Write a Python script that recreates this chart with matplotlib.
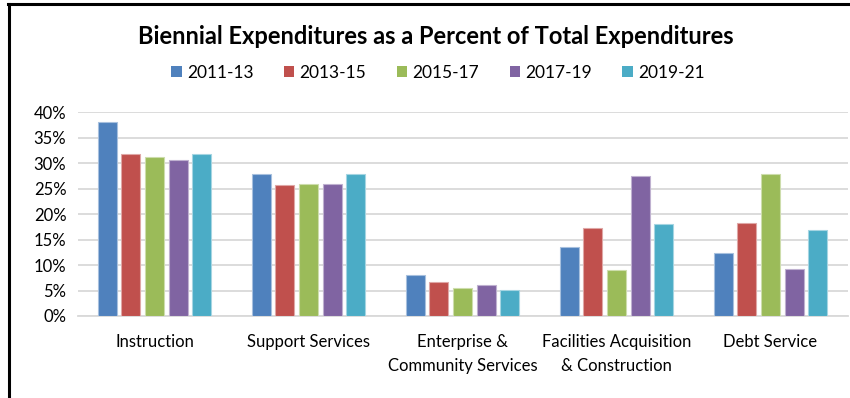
import matplotlib
matplotlib.use("Agg")
import matplotlib.pyplot as plt
from matplotlib.patches import Patch
from matplotlib.lines import Line2D
import numpy as np

categories = ["Instruction", "Support Services", "Enterprise &\nCommunity Services",
              "Facilities Acquisition\n& Construction", "Debt Service"]
periods = ["2011-13", "2013-15", "2015-17", "2017-19", "2019-21"]

pct_2011_13 = [38.0, 27.9, 8.0, 13.5, 12.3]
pct_2013_15 = [31.9, 25.7, 6.6, 17.2, 18.2]
pct_2015_17 = [31.2, 25.9, 5.5, 9.1, 27.8]
pct_2017_19 = [30.7, 26.0, 6.0, 27.5, 9.3]
pct_2019_21 = [31.9, 27.8, 5.1, 18.0, 16.8]

series = [pct_2011_13, pct_2013_15, pct_2015_17, pct_2017_19, pct_2019_21]
colors = ["#4F81BD", "#C0504D", "#9BBB59", "#8064A2", "#4BACC6"]
edges = ["#A7C0DE", "#DFA7A6", "#CDDDAC", "#BFB1D0", "#A5D5E2"]

plt.rcParams["font.family"] = ["Lato", "DejaVu Sans"]

W, H = 850, 398
fig = plt.figure(figsize=(W / 100, H / 100), dpi=100)
ax = fig.add_axes([77.5 / W, 82 / H, 770 / W, (316 - 112.3) / H])

x = np.arange(len(categories))
slot = 0.1532
bar_w = 0.123
for i, (vals, c, ec) in enumerate(zip(series, colors, edges)):
    ax.bar(x + (i - 2) * slot, vals, width=bar_w, color=c, edgecolor=ec,
           linewidth=0.8, zorder=3)

ax.set_xlim(-0.5, len(categories) - 0.5)
ax.set_ylim(0, 40)
ax.set_yticks(np.arange(0, 41, 5))
ax.set_yticklabels([f"{v}%" for v in range(0, 41, 5)])
ax.set_xticks(x)
ax.set_xticklabels(categories, linespacing=1.6)
ax.yaxis.grid(True, color="#D9D9D9", linewidth=1.3, zorder=0)
ax.tick_params(axis="both", length=0, labelsize=12, colors="#000000")
ax.tick_params(axis="y", pad=8)
ax.tick_params(axis="x", pad=13)
for s in ["top", "right", "left"]:
    ax.spines[s].set_visible(False)
ax.spines["bottom"].set_color("#D9D9D9")
ax.spines["bottom"].set_linewidth(1.3)

fig.text(436 / W, 1 - 36 / H, "Biennial Expenditures as a Percent of Total Expenditures",
         ha="center", va="center", fontsize=17, fontweight="bold")

handles = [Patch(facecolor=c, edgecolor="none") for c in colors]
fig.legend(handles, periods, loc="center", bbox_to_anchor=(438 / W, 1 - 73 / H),
           ncol=5, frameon=False, fontsize=12.5, handlelength=0.6, handleheight=0.6,
           handletextpad=0.3, columnspacing=1.75)

# black frame on the left and top edges
fig.add_artist(Line2D([8.5 / W, 8.5 / W], [0, 1 - 3.7 / H], color="black",
                      linewidth=2.2, transform=fig.transFigure))
fig.add_artist(Line2D([7.5 / W, 1], [1 - 3.7 / H, 1 - 3.7 / H], color="black",
                      linewidth=2.2, transform=fig.transFigure))

fig.savefig("out.png", dpi=100)
